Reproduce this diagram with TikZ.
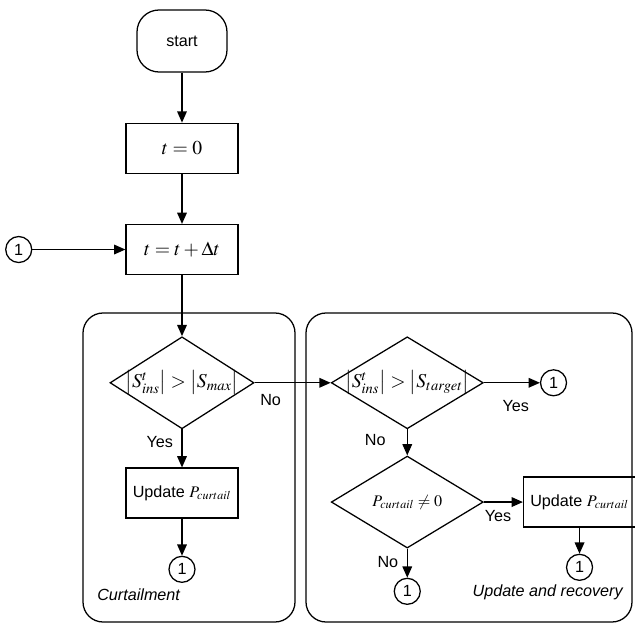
\documentclass[tikz,border=0pt]{standalone}
\usepackage{mathptmx}
\usepackage[no-math]{fontspec}
\setmainfont{Liberation Sans}
\usepackage{tikz}
\usetikzlibrary{shapes.geometric, arrows.meta, positioning}
\newcommand{\mathsize}{\fontsize{14}{16}\selectfont}
\tikzstyle{terminal} = [rectangle, draw, rounded corners=0.55cm,
                        minimum width=2.25cm, minimum height=1.55cm]
\tikzstyle{process}  = [rectangle, draw, text centered,
                        minimum width=2.8cm, minimum height=1.25cm]
\tikzstyle{decision} = [diamond, draw, inner xsep=-1.2cm, inner ysep=0pt,
                        minimum width=3.8cm, minimum height=2.3cm]
\tikzstyle{connector}= [circle, draw, minimum size=0.65cm, inner sep=0pt]
\tikzstyle{panel}    = [draw, rounded corners=0.5cm]
\tikzstyle{answer}   = [inner sep=1pt]
\tikzstyle{arrow}    = [-{Triangle[length=2.8mm, width=2.4mm]}]

\begin{document}
\begin{tikzpicture}[node distance=1.25cm, line width=0.9pt,
    every node/.style={font=\fontsize{11.5}{14}\selectfont}]
  \useasboundingbox (0,0) rectangle (15.875,-15.6);

  % Panels
  \draw[panel] (2.075,-7.825) rectangle (7.375,-15.55);
  \draw[panel] (7.65,-7.825) rectangle (15.8,-15.55);

  % Start and time step
  \node[terminal] (start) at (4.55,-1.025) {start};
  \node[process, below=of start] (init) {\mathsize $t=0$};
  \node[process, below=of init] (tick) {\mathsize $t=t+\Delta t$};
  \node[connector, left=2.325cm of tick] (c0) {1};

  % Curtailment
  \node[decision, minimum width=3.6cm, below=1.525cm of tick] (d1)
    {\mathsize $\big|S^{t}_{ins}\big|>\big|S_{max}\big|$};
  \node[process, below=0.95cm of d1] (u1) {Update $P_{curtail}$};
  \node[connector, below=0.925cm of u1] (c1) {1};
  \node[anchor=west, font=\fontsize{11.5}{14}\selectfont\itshape] (curtlabel) at (2.3,-14.875) {Curtailment};

  % Update and recovery
  \node[decision, right=1.9cm of d1] (d2)
    {\mathsize $\big|S^{t}_{ins}\big|>\big|S_{target}\big|$};
  \node[connector, right=1.4cm of d2] (c2) {1};
  \node[decision, below=0.65cm of d2] (d3) {$P_{curtail}\neq 0$};
  \node[process, right=0.975cm of d3] (u2) {Update $P_{curtail}$};
  \node[connector, below=0.65cm of u2] (c3) {1};
  \node[connector, below=0.725cm of d3] (c4) {1};
  \node[anchor=east, font=\fontsize{11.5}{14}\selectfont\itshape] (recovlabel) at (15.7,-14.8) {Update and recovery};

  % Arrows
  \draw[arrow] (start) -- (init);
  \draw[arrow] (init) -- (tick);
  \draw[arrow] (c0) -- (tick);
  \draw[arrow] (tick) -- (d1);
  \draw[arrow] (d1) -- node[answer, pos=0.21, below=7pt] {No} (d2);
  \draw[arrow] (d1) -- node[answer, pos=0.32, left=5pt] {Yes} (u1);
  \draw[arrow] (u1) -- (c1);
  \draw[arrow] (d2) -- node[answer, pos=0.57, below=11pt] {Yes} (c2);
  \draw[arrow] (d2) -- node[answer, pos=0.42, left=14pt] {No} (d3);
  \draw[arrow] (d3) -- node[answer, pos=0.36, below=4.5pt] {Yes} (u2);
  \draw[arrow] (d3) -- node[answer, pos=0.45, left=5pt] {No} (c4);
  \draw[arrow] (u2) -- (c3);
\end{tikzpicture}
\end{document}
